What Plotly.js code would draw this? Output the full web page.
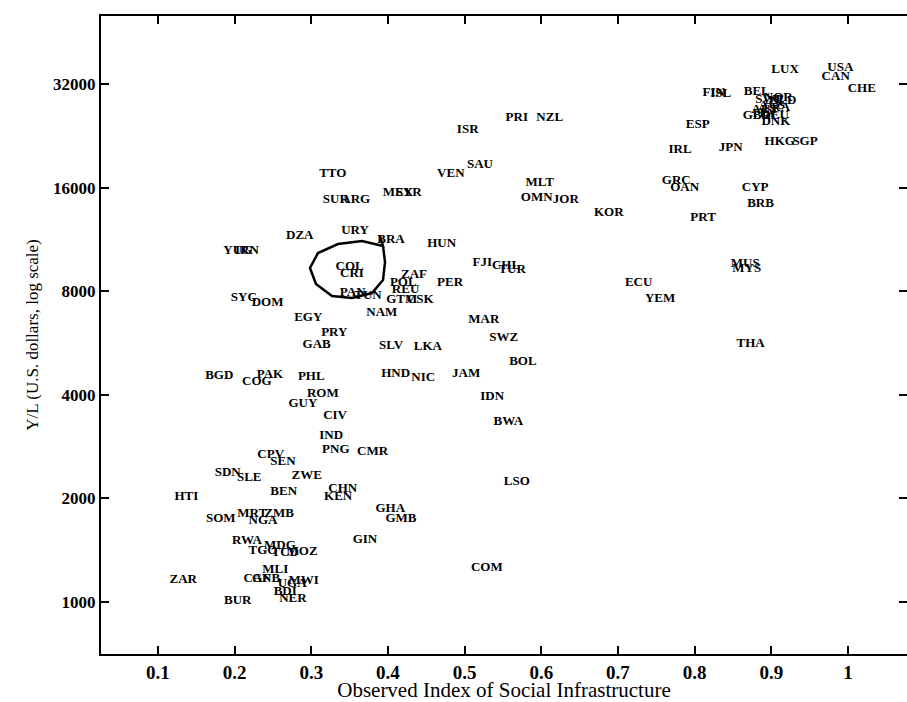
<!DOCTYPE html>
<html>
<head>
<meta charset="utf-8">
<script src="https://cdn.plot.ly/plotly-3.0.1.min.js"></script>
<style>html,body{margin:0;padding:0;background:#fff;}#chart{width:907px;height:702px;}</style>
</head>
<body>
<div id="chart"></div>
<script>
// Country codes (Penn World Table style)
const codes = ["USA","CAN","CHE","LUX","FIN","ISL","BEL","NOR","SWE","NLD","AUS","FRA","AUT","ITA","GBR","DEU","DNK",
"ESP","IRL","JPN","HKG","SGP","GRC","OAN","CYP","BRB","KOR","PRT","MUS","MYS","ECU","YEM","THA",
"PRI","NZL","ISR","SAU","VEN","TTO","SUR","ARG","MEX","SYR","MLT","OMN","JOR","DZA","URY","BRA","HUN","YUG","IRN",
"FJI","CHL","TUR","COL","CRI","ZAF","POL","PER","REU","PAN","TUN","GTM","CSK","SYC","DOM","EGY","NAM","PRY","GAB","SLV","LKA",
"MAR","SWZ","BOL","JAM","HND","NIC","IDN","BWA","LSO","COM","BGD","PAK","COG","PHL","ROM","GUY","CIV","IND","PNG","CMR",
"CPV","SEN","SDN","SLE","ZWE","BEN","CHN","KEN","HTI","GHA","GMB","GIN","SOM","MRT","ZMB","NGA","RWA","MDG","TGO","TCD","MOZ",
"MLI","CAF","GNB","UGA","MWI","BDI","NER","BUR","ZAR"];

// Observed index of social infrastructure
const socialInfra = [0.990,0.984,1.018,0.918,0.825,0.834,0.881,0.909,0.898,0.915,0.901,0.907,0.892,0.890,0.881,0.905,0.906,
0.804,0.781,0.847,0.911,0.944,0.776,0.787,0.879,0.886,0.688,0.811,0.866,0.868,0.727,0.755,0.873,
0.568,0.611,0.504,0.520,0.482,0.328,0.332,0.358,0.413,0.427,0.598,0.594,0.632,0.285,0.357,0.404,0.470,0.204,0.216,
0.523,0.554,0.562,0.350,0.353,0.434,0.420,0.481,0.423,0.354,0.374,0.418,0.442,0.212,0.243,0.296,0.392,0.330,0.307,0.404,0.452,
0.525,0.551,0.576,0.502,0.410,0.446,0.536,0.557,0.568,0.529,0.180,0.246,0.229,0.300,0.315,0.289,0.331,0.326,0.332,0.380,
0.247,0.263,0.191,0.219,0.294,0.264,0.341,0.335,0.137,0.403,0.417,0.370,0.182,0.223,0.258,0.237,0.216,0.259,0.237,0.266,0.288,
0.253,0.229,0.241,0.275,0.290,0.266,0.276,0.204,0.133];

// Output per worker, Y/L (U.S. dollars)
const outputPerWorker = [35600,33500,31100,35100,30100,30000,30300,29100,28800,28600,27600,27300,26900,26200,25800,25800,24800,
24300,20600,20900,21700,21700,16700,15960,15960,14400,13500,13100,9600,9280,8450,7590,5620,
25500,25500,23500,18700,17600,17600,14800,14800,15500,15500,16500,15000,14800,11600,12000,11300,11000,10500,10500,
9660,9470,9220,9410,8980,8910,8450,8450,8070,7900,7750,7540,7540,7640,7390,6690,6910,6050,5580,5540,5500,
6630,5850,4980,4600,4600,4480,3940,3330,2230,1260,4540,4570,4360,4510,4020,3760,3470,3040,2760,2730,
2670,2550,2370,2290,2320,2090,2130,2020,2020,1860,1740,1520,1740,1800,1810,1720,1510,1460,1410,1390,1400,
1240,1170,1170,1130,1150,1070,1020,1010,1160];

const xTickVals = [0.1,0.2,0.3,0.4,0.5,0.6,0.7,0.8,0.9,1];
const xTickText = ["0.1","0.2","0.3","0.4","0.5","0.6","0.7","0.8","0.9","1"];
const yTickVals = [1000,2000,4000,8000,16000,32000];
const yTickText = ["1000","2000","4000","8000","16000","32000"];

const serif = "Liberation Serif, Times New Roman, serif";

// hand-drawn loop around COL (paper coordinates)
const loopPts = [[0.3462,0.6552],[0.3499,0.6395],[0.3238,0.6473],[0.2940,0.6426],[0.2692,0.6285],[0.2593,0.6050],
[0.2667,0.5799],[0.2866,0.5611],[0.3114,0.5580],[0.3362,0.5658],[0.3499,0.5862],[0.3524,0.6144],[0.3499,0.6395]];
const loopPath = loopPts.map((p,i)=>(i===0?"M":"L")+p[0]+","+p[1]).join(" ");

const trace = {
  type: "scatter",
  mode: "text",
  x: socialInfra,
  y: outputPerWorker,
  text: codes,
  textposition: "middle center",
  textfont: {family: serif, size: 13, color: "#000", weight: "bold"},
  cliponaxis: false,
  hoverinfo: "text"
};

const layout = {
  width: 907, height: 702,
  margin: {l: 101, r: 0, t: 16, b: 48, pad: 0},
  paper_bgcolor: "#fff", plot_bgcolor: "#fff",
  showlegend: false,
  font: {family: serif, color: "#000"},
  xaxis: {
    range: [0.0257, 1.077],
    tickvals: xTickVals, ticktext: xTickText,
    ticks: "inside", ticklen: 8, tickwidth: 1.5, tickcolor: "#000",
    showline: true, linecolor: "#000", linewidth: 2, mirror: "ticks",
    showgrid: false, zeroline: false,
    tickfont: {family: serif, size: 19, color: "#000", weight: "bold"},
    title: {text: "Observed Index of Social Infrastructure", font: {family: serif, size: 21, color: "#000"}, standoff: 0}
  },
  yaxis: {
    type: "log",
    range: [Math.log10(706), Math.log10(50440)],
    tickvals: yTickVals, ticktext: yTickText,
    ticks: "inside", ticklen: 8, tickwidth: 1.5, tickcolor: "#000",
    showline: true, linecolor: "#000", linewidth: 2, mirror: "ticks",
    showgrid: false, zeroline: false,
    tickfont: {family: serif, size: 17, color: "#000", weight: "bold"},
    title: {text: "Y/L (U.S. dollars, log scale)", font: {family: serif, size: 17, color: "#000"}, standoff: 10}
  },
  shapes: [{
    type: "path", xref: "paper", yref: "paper", path: loopPath,
    line: {color: "#000", width: 2.5}, fillcolor: "rgba(0,0,0,0)"
  }]
};

Plotly.newPlot("chart", [trace], layout, {displayModeBar: false, responsive: false});
</script>
</body>
</html>
